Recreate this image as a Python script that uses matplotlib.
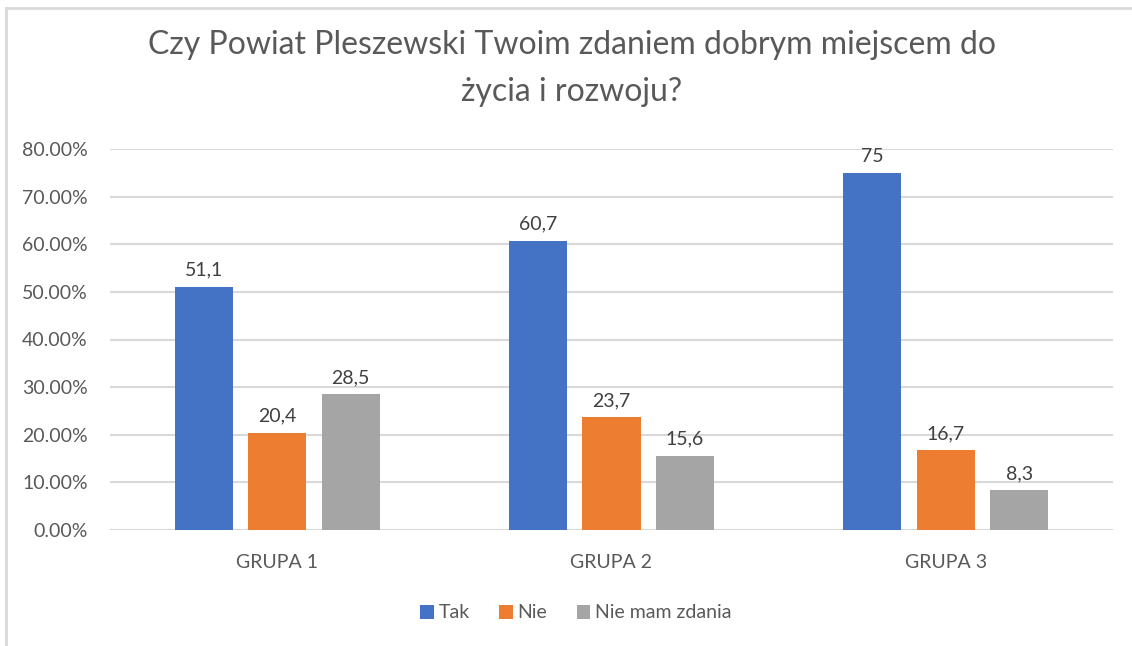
import matplotlib
matplotlib.use("Agg")
import matplotlib.pyplot as plt
import numpy as np
from matplotlib.lines import Line2D

plt.rcParams["font.family"] = ["Lato", "DejaVu Sans"]

groups = ["GRUPA 1", "GRUPA 2", "GRUPA 3"]
series = ["Tak", "Nie", "Nie mam zdania"]
tak = [51.1, 60.7, 75.0]
nie = [20.4, 23.7, 16.7]
brak = [28.5, 15.6, 8.3]
labels_tak = ["51,1", "60,7", "75"]
labels_nie = ["20,4", "23,7", "16,7"]
labels_brak = ["28,5", "15,6", "8,3"]
yticks = [0, 10, 20, 30, 40, 50, 60, 70, 80]

colors = ["#4472C4", "#ED7D31", "#A5A5A5"]
text_color = "#595959"
grid_color = "#D9D9D9"

W, H = 1132, 646
fig = plt.figure(figsize=(W / 100, H / 100), dpi=100)
ax = fig.add_axes([110 / W, 1 - 530 / H, (1113 - 110) / W, (530 - 149) / H])

x = np.arange(len(groups))
width = 0.174
pitch = 0.22
values = [tak, nie, brak]
labels = [labels_tak, labels_nie, labels_brak]
for i, (vals, labs) in enumerate(zip(values, labels)):
    pos = x + (i - 1) * pitch
    ax.bar(pos, vals, width, color=colors[i], label=series[i], zorder=3)
    for p, v, t in zip(pos, vals, labs):
        ax.annotate(t, (p, v), xytext=(0, 8), textcoords="offset points",
                    ha="center", va="baseline", fontsize=14, color="#404040")

ax.set_xlim(-0.5, 2.5)
ax.set_ylim(0, 80)
ax.set_yticks(yticks)
ax.set_yticklabels([f"{v:.2f}%" for v in yticks])
ax.set_xticks(x)
ax.set_xticklabels(groups)
ax.grid(axis="y", color=grid_color, linewidth=1.5, zorder=0)
for s in ax.spines.values():
    s.set_visible(False)
ax.tick_params(axis="y", length=0, pad=16, labelsize=14, labelcolor=text_color)
ax.tick_params(axis="x", length=0, pad=17, labelsize=14, labelcolor=text_color)

title_lines = ["Czy Powiat Pleszewski Twoim zdaniem dobrym miejscem do",
               "życia i rozwoju?"]
for line, ypix in zip(title_lines, [45, 92]):
    fig.text(572 / W, 1 - ypix / H, line, ha="center", va="center",
             fontsize=23, color=text_color)

fig.legend(loc="center", bbox_to_anchor=(576 / W, 1 - 613 / H), ncol=3,
           frameon=False, fontsize=14, handlelength=0.7, handleheight=0.7,
           handletextpad=0.25, columnspacing=1.5, labelcolor=text_color)

# chart border (top and left edges visible)
fig.add_artist(Line2D([6 / W, 1], [1 - 8 / H, 1 - 8 / H], color=grid_color,
                      linewidth=2, transform=fig.transFigure))
fig.add_artist(Line2D([6 / W, 6 / W], [0, 1 - 8 / H], color=grid_color,
                      linewidth=2, transform=fig.transFigure))

fig.savefig("out.png", dpi=100)
plt.close(fig)
